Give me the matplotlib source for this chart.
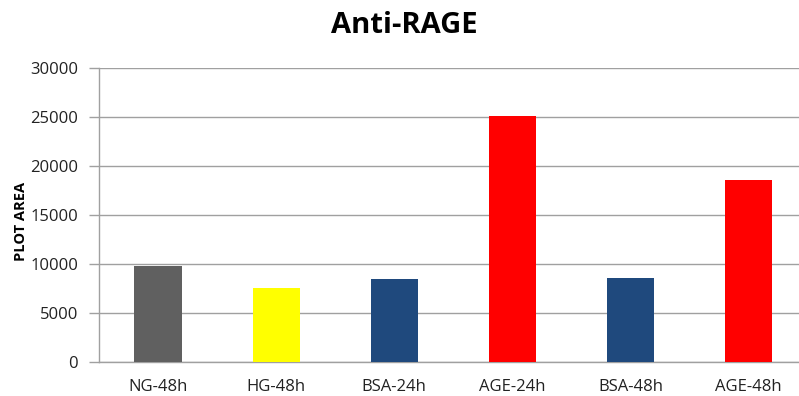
import matplotlib.pyplot as plt

plt.rcParams['font.family'] = ['Open Sans', 'DejaVu Sans']

categories = ["NG-48h", "HG-48h", "BSA-24h", "AGE-24h", "BSA-48h", "AGE-48h"]
plot_area = [9800, 7550, 8450, 25100, 8600, 18600]
bar_colors = ["#606060", "#FFFF00", "#1F497D", "#FF0000", "#1F497D", "#FF0000"]
y_ticks = [0, 5000, 10000, 15000, 20000, 25000, 30000]

fig = plt.figure(figsize=(7.99, 3.96), dpi=100)
ax = fig.add_axes([0.1239, 0.0859, 0.887, 0.742])

x = range(len(categories))
ax.bar(x, plot_area, width=0.4, color=bar_colors, zorder=3)

ax.set_xlim(-0.5, len(categories) - 0.5)
ax.set_ylim(0, 30000)
ax.set_yticks(y_ticks)
ax.set_yticklabels([str(t) for t in y_ticks], fontsize=12, color="#222222")
ax.set_xticks(list(x))
ax.set_xticklabels(categories, fontsize=12, color="#222222")

ax.grid(axis="y", color="#A0A0A0", linewidth=1.0, zorder=0)
ax.tick_params(axis="x", length=0, pad=12)
ax.tick_params(axis="y", length=7, width=1.0, color="#A0A0A0", pad=8)

for side in ("top", "right"):
    ax.spines[side].set_visible(False)
for side in ("left", "bottom"):
    ax.spines[side].set_color("#A0A0A0")
    ax.spines[side].set_linewidth(1.0)

ax.set_ylabel("PLOT AREA", fontsize=10.5, fontweight="bold")
ax.yaxis.set_label_coords(-0.1, 0.48)
fig.text(0.506, 0.935, "Anti-RAGE", ha="center", va="center",
         fontsize=21, fontweight="bold")

fig.savefig("out.png", dpi=100)
